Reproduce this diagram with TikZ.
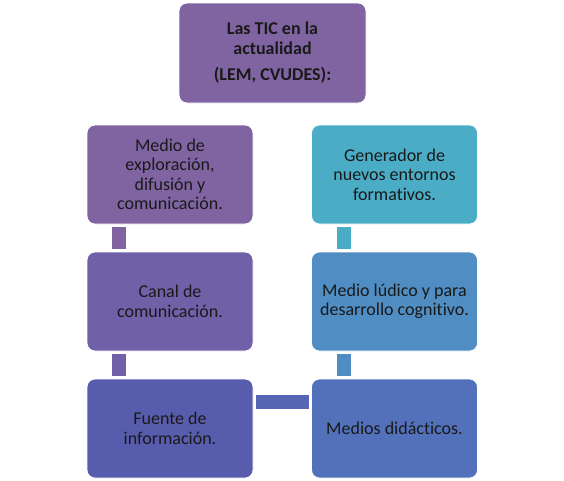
\documentclass[tikz,border=0pt]{standalone}
\usepackage{fontspec}
\setmainfont{Carlito}[Ligatures=NoCommon]
\usepackage{tikz}
\usetikzlibrary{positioning}

\definecolor{violetA}{RGB}{128,100,162}
\definecolor{violetB}{RGB}{111,96,168}
\definecolor{violetC}{RGB}{88,92,172}
\definecolor{tealA}{RGB}{75,172,198}
\definecolor{tealB}{RGB}{79,141,195}
\definecolor{tealC}{RGB}{83,113,187}
\definecolor{linkC}{RGB}{86,101,180}

\begin{document}
\begin{tikzpicture}[x=1pt,y=1pt,node distance=127pt,on grid,
    box/.style={rectangle,rounded corners=8pt,draw=white,line width=0.8pt,
      minimum width=166pt,minimum height=99pt,align=center,text=black!90,
      font=\fontsize{18}{19.5}\selectfont},
    link/.style={line width=14pt,shorten >=2.5pt,shorten <=2.5pt}]
   \useasboundingbox (0,0) rectangle (564,-480);
   \node[box,fill=violetA,minimum width=187pt,minimum height=100pt,
     font=\bfseries\fontsize{18}{19.5}\selectfont] (tic) at (272.5,-53)
     {Las TIC en la\\actualidad\\[7pt](LEM, CVUDES):};
   \node[box,fill=violetA] (medio) at (170,-174.5)
     {Medio de\\exploración,\\difusión y\\comunicación.};
   \node[box,fill=violetB] (canal) [below=of medio] {Canal de\\comunicación.};
   \node[box,fill=violetC] (fuente) [below=of canal] {Fuente de\\información.};
   \node[box,fill=tealA] (gener) [right=224.5pt of medio]
     {Generador de\\nuevos entornos\\formativos.};
   \node[box,fill=tealB] (ludico) [below=of gener]
     {Medio lúdico y para\\desarrollo cognitivo.};
   \node[box,fill=tealC] (didac) [below=of ludico] {Medios didácticos.};
    \draw[link,violetA] ([xshift=32.5pt]medio.south west) -- ([xshift=32.5pt]canal.north west);
    \draw[link,violetB] ([xshift=32.5pt]canal.south west) -- ([xshift=32.5pt]fuente.north west);
    \draw[link,linkC] ([yshift=-23.5pt]fuente.north east) -- ([yshift=-23.5pt]didac.north west);
    \draw[link,tealA] ([xshift=32.5pt]gener.south west) -- ([xshift=32.5pt]ludico.north west);
    \draw[link,tealB] ([xshift=32.5pt]ludico.south west) -- ([xshift=32.5pt]didac.north west);
\end{tikzpicture}
\end{document}
